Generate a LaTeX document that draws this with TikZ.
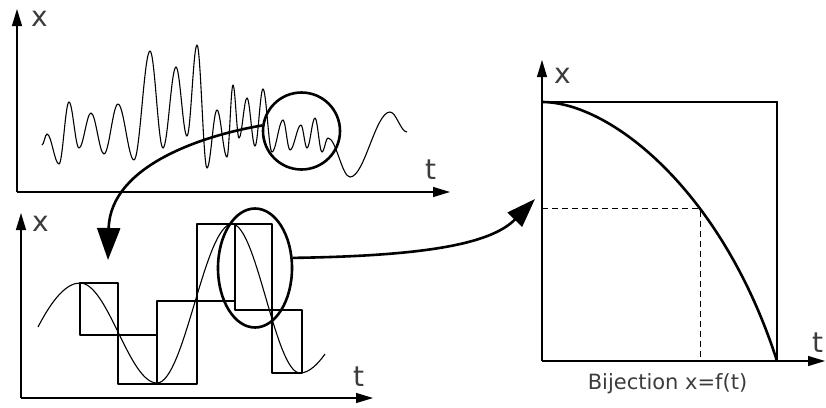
\documentclass[tikz,border=0pt]{standalone}
\usepackage{fontspec}
\setmainfont{DejaVu Sans}
\usetikzlibrary{arrows.meta,shapes.geometric}
\definecolor{labelgray}{RGB}{60,60,60}
\begin{document}
\begin{tikzpicture}[x=1pt,y=-1pt,
  axis/.style={line width=1.2pt,-{Triangle[length=17pt,width=10pt]}},
  wave/.style={line width=1.1pt,line join=round},
  bold/.style={line width=2.6pt},
  bigarrow/.style={line width=2.6pt,-{Triangle[length=32pt,width=23pt]}},
  midarrow/.style={line width=2.6pt,-{Triangle[length=29pt,width=20pt]}},
  axlabel/.style={font=\fontsize{28}{28}\selectfont, text=labelgray, inner sep=0pt, anchor=base west},
  caption/.style={font=\fontsize{21}{21}\selectfont, text=labelgray, inner sep=0pt, anchor=base}]
\useasboundingbox (0,0) rectangle (826,407);

% ---------- top panel ----------
\coordinate (O1) at (17,192);
\draw[axis] (O1) -- (17,9);
\draw[axis] (O1) -- (450,192);
\node[axlabel] (x1) at (31,26) {x};
\node[axlabel] (t1) at (425,179) {t};
\draw[wave] (42,145) foreach \px/\py [remember=\px as \lx (initially 42), remember=\py as \ly (initially 145)] in
 {47/134, 59/164, 69/102, 79/148, 91/113, 104/154, 118/104, 134/160, 150/51, 163/148,
  176/67, 187/136, 197/45, 207/168, 217/110, 227/157, 233/85, 239/138, 247/98, 255/146,
  263/89, 272/152, 283/120, 290/150, 301/125, 307/148, 315/118, 322/152, 328/138, 350/177,
  390/112, 407/132}
 { .. controls ({\lx+0.364*(\px-\lx)},\ly) and ({\px-0.364*(\px-\lx)},\py) .. (\px,\py) };
\node[circle, draw, line width=2.6pt, minimum size=77pt, inner sep=0pt] (zoomA) at (301.5,131) {};

% ---------- bottom panel ----------
\coordinate (O2) at (21,398);
\draw[axis] (O2) -- (21,213);
\draw[axis] (O2) -- (373,398);
\node[axlabel] (x2) at (32,231) {x};
\node[axlabel] (t2) at (353,386) {t};
\draw[wave] (38,327) .. controls (52,300) and (66,283) .. (80,283)
  foreach \px/\py [remember=\px as \lx (initially 80), remember=\py as \ly (initially 283)] in
  {157/383, 232/224, 300/373}
  { .. controls ({\lx+0.364*(\px-\lx)},\ly) and ({\px-0.364*(\px-\lx)},\py) .. (\px,\py) }
  .. controls (309,373) and (318,364) .. (325,354);
\draw[wave] (80,283) -- (118,283) -- (118,384) -- (197,384) -- (197,224) -- (272,224)
  -- (272,373) -- (302,373) -- (302,310) -- (235,310) -- (235,301) -- (157,301)
  -- (157,335) -- (80,335) -- cycle;
\draw[wave] (157,335) -- (157,384);
\draw[wave] (235,224) -- (235,301);
\node[ellipse, draw, line width=2.6pt, minimum width=74pt, minimum height=119pt, inner sep=0pt] (zoomB) at (255,268) {};

% ---------- right panel ----------
\coordinate (O3) at (542,361);
\draw[line width=1.2pt] (542,102) -- (777,102) -- (777,361);
\draw[axis] (O3) -- (542,60);
\draw[axis] (O3) -- (825,361);
\node[axlabel] (x3) at (554,83) {x};
\node[axlabel] (t3) at (812,352) {t};
\draw[bold] (542,102) .. controls (610,102) and (722,190) .. (777,361) coordinate[pos=0.64] (P);
\draw[line width=1pt, dash pattern=on 6pt off 4pt] (O3 |- P) -- (P) -- (P |- O3);
\node[caption] (cap) at (667.5,389) {Bijection x=f(t)};

% ---------- connecting arrows ----------
\coordinate (tipA) at (108,260);
\coordinate (tipB) at (535,199);
\draw[bigarrow] (zoomA.172) .. controls (205,135) and (110,165) .. (tipA);
\draw[midarrow] (zoomB.15) .. controls (420,256) and (490,245) .. (tipB);
\end{tikzpicture}
\end{document}
